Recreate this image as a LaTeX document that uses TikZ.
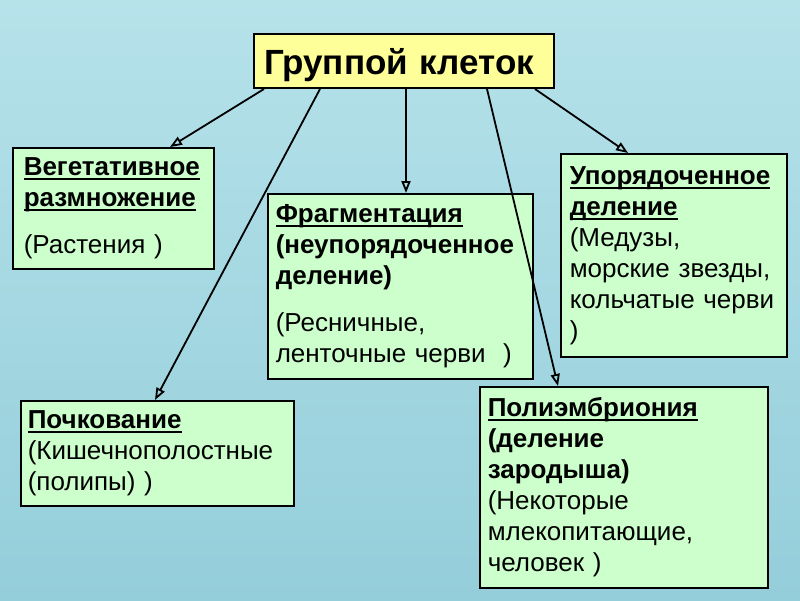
\documentclass[tikz,border=0pt]{standalone}
\usepackage{fontspec}
\setmainfont{Liberation Sans}
\usepackage{tikz}
\usetikzlibrary{arrows.meta,positioning}

\definecolor{watertop}{RGB}{182,226,234}
\definecolor{waterbot}{RGB}{148,206,218}
\definecolor{titlefill}{RGB}{255,255,153}
\definecolor{cardfill}{RGB}{204,255,204}

\newsavebox{\headbox}
\newcommand{\ulhead}[1]{\leavevmode\sbox{\headbox}{\bfseries #1}\rlap{\rule[-4.5pt]{\wd\headbox}{2pt}}\usebox{\headbox}}
\hyphenpenalty=10000

\begin{document}
\begin{tikzpicture}[
  x=1pt,y=-1pt,
  font=\fontsize{26}{31}\selectfont,
  title/.style={rectangle,draw=black,fill=titlefill,line width=2pt,anchor=north west,align=left,inner xsep=10pt,inner ysep=0pt,text depth=0pt,font=\fontsize{35}{40}\selectfont\bfseries},
  card/.style={rectangle,draw=black,fill=cardfill,line width=1.5pt,anchor=north west,align=left,inner xsep=8pt,inner ysep=0pt},
  arr/.style={-{Triangle[open,length=12pt,width=9pt]},line width=1.8pt}
]
% water background
\shade[top color=watertop,bottom color=waterbot] (0,0) rectangle (800,600);

\node[title,text width=280pt,minimum height=54pt] (title) at (253,33) {Группой клеток};

\node[card,inner xsep=11pt,text width=179pt,minimum height=121pt] (veg) at (12,147)
  {\ulhead{Вегетативное}\\ \ulhead{размножение}\\[16pt] (Растения~)};
\node[card,text width=249pt,minimum height=185pt] (frag) at (267,193)
  {\ulhead{Фрагментация}\\ \textbf{(неупорядоченное}\\ \textbf{деление)}\\[16pt] (Ресничные,\\ ленточные~черви~~)};
\node[card,inner xsep=9pt,text width=208pt,minimum height=203pt] (ord) at (560,153)
  {\ulhead{Упорядоченное}\\ \ulhead{деление}\\ (Медузы,\\ морские~звезды,\\ кольчатые~черви\\ )};
\node[card,inner xsep=7pt,text width=259pt,minimum height=105pt] (bud) at (20,400)
  {\ulhead{Почкование}\\ (Кишечнополостные\\ (полипы)~)};
\node[card,text width=272pt,minimum height=201pt] (poly) at (479,386)
  {\ulhead{Полиэмбриония}\\ \textbf{(деление}\\ \textbf{зародыша)}\\ (Некоторые\\ млекопитающие,\\ человек~)};

\draw[arr] ([xshift=11pt]title.south west) -- ([xshift=158pt]veg.north west);
\draw[arr] ([xshift=67pt]title.south west) -- ([xshift=135pt]bud.north west);
\draw[arr] ([xshift=153pt]title.south west) -- ([xshift=139pt]frag.north west);
\draw[arr] ([xshift=234pt]title.south west) -- ([xshift=79pt]poly.north west);
\draw[arr] ([xshift=282pt]title.south west) -- ([xshift=68pt]ord.north west);
\end{tikzpicture}
\end{document}
